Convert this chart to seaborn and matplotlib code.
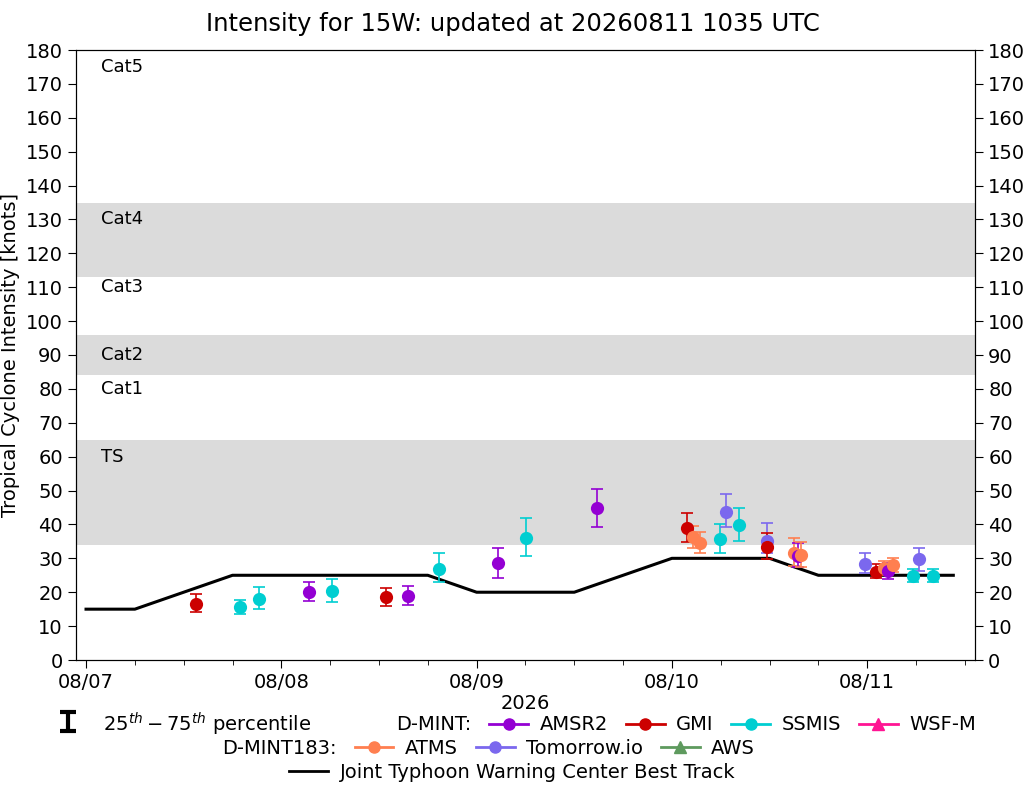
import numpy as np
import pandas as pd
import matplotlib
matplotlib.use("Agg")
import matplotlib.pyplot as plt
import matplotlib.dates as mdates
from matplotlib.lines import Line2D
import seaborn as sns

# ---------------- data ----------------
title_text = "Intensity for 15W: updated at 20260811 1035 UTC"

bt_time = ["2026-08-07 00:00", "2026-08-07 06:00", "2026-08-07 12:00", "2026-08-07 18:00",
           "2026-08-08 00:00", "2026-08-08 06:00", "2026-08-08 12:00", "2026-08-08 18:00",
           "2026-08-09 00:00", "2026-08-09 06:00", "2026-08-09 12:00", "2026-08-09 18:00",
           "2026-08-10 00:00", "2026-08-10 06:00", "2026-08-10 12:00", "2026-08-10 18:00",
           "2026-08-11 00:00", "2026-08-11 06:00", "2026-08-11 10:35"]
bt_vmax = [15, 15, 20, 25, 25, 25, 25, 25, 20, 20, 20, 25, 30, 30, 30, 25, 25, 25, 25]

amsr2_time = ["2026-08-08 03:25", "2026-08-08 15:36", "2026-08-09 02:37",
              "2026-08-09 14:46", "2026-08-10 15:32", "2026-08-11 02:30"]
amsr2_vmax = [20.0, 18.8, 28.5, 44.8, 30.8, 26.2]
amsr2_p25 = [17.3, 16.1, 24.1, 39.2, 27.5, 23.8]
amsr2_p75 = [22.9, 21.7, 33.0, 50.4, 34.4, 28.5]

gmi_time = ["2026-08-07 13:28", "2026-08-08 12:52", "2026-08-10 01:49",
            "2026-08-10 11:38", "2026-08-11 01:02"]
gmi_vmax = [16.4, 18.5, 38.9, 33.3, 25.9]
gmi_p25 = [14.1, 16.0, 34.9, 29.7, 24.2]
gmi_p75 = [19.4, 21.2, 43.3, 37.4, 28.2]

ssmis_time = ["2026-08-07 18:56", "2026-08-07 21:17", "2026-08-08 06:12",
              "2026-08-08 19:25", "2026-08-09 06:03", "2026-08-10 05:53",
              "2026-08-10 08:12", "2026-08-11 05:41", "2026-08-11 08:07"]
ssmis_vmax = [15.5, 18.0, 20.3, 27.0, 35.9, 35.7, 39.8, 24.8, 24.9]
ssmis_p25 = [13.5, 15.0, 17.0, 22.9, 30.6, 31.5, 35.1, 23.1, 23.1]
ssmis_p75 = [17.8, 21.4, 23.8, 31.5, 41.8, 40.0, 45.0, 26.8, 26.8]

atms_time = ["2026-08-10 02:34", "2026-08-10 03:27", "2026-08-10 14:57",
             "2026-08-10 15:53", "2026-08-11 02:05", "2026-08-11 03:11"]
atms_vmax = [36.2, 34.4, 31.7, 30.9, 27.1, 28.0]
atms_p25 = [33.0, 31.6, 27.7, 27.5, 25.0, 26.1]
atms_p75 = [39.6, 37.7, 35.9, 34.7, 29.3, 30.0]

tio_time = ["2026-08-10 06:38", "2026-08-10 11:38", "2026-08-10 23:41", "2026-08-11 06:19"]
tio_vmax = [43.6, 35.2, 28.3, 29.8]
tio_p25 = [39.2, 31.5, 25.6, 26.4]
tio_p75 = [48.9, 40.3, 31.5, 33.0]

cat_labels = ["TS", "Cat1", "Cat2", "Cat3", "Cat4", "Cat5"]
cat_label_y = [60, 80, 90, 110, 130, 175]
shade_lo = [34, 84, 113]
shade_hi = [65, 96, 135]

# ---------------- styling ----------------
colors = {"AMSR2": "#9400D3", "GMI": "#CC0000", "SSMIS": "#00CED1", "WSF-M": "#FF1493",
          "ATMS": "#FF7F50", "Tomorrow.io": "#7B68EE", "AWS": "#5E9A5E"}

plt.rcParams["font.family"] = ["DejaVu Sans"]

fig = plt.figure(figsize=(10.25, 7.85), dpi=100)
ax = fig.add_axes([76 / 1025, 1 - 660 / 785, 899 / 1025, 610 / 785])

for lo, hi in zip(shade_lo, shade_hi):
    ax.axhspan(lo, hi, color="#DBDBDB", lw=0, zorder=0)

bt = pd.DataFrame({"time": pd.to_datetime(bt_time), "vmax": bt_vmax})
sns.lineplot(data=bt, x="time", y="vmax", color="black", lw=2.2, ax=ax, zorder=2)

series = [
    ("AMSR2", amsr2_time, amsr2_vmax, amsr2_p25, amsr2_p75),
    ("GMI", gmi_time, gmi_vmax, gmi_p25, gmi_p75),
    ("SSMIS", ssmis_time, ssmis_vmax, ssmis_p25, ssmis_p75),
    ("ATMS", atms_time, atms_vmax, atms_p25, atms_p75),
    ("Tomorrow.io", tio_time, tio_vmax, tio_p25, tio_p75),
]
rows = []
for name, t, v, lo, hi in series:
    for a, b, c, d in zip(t, v, lo, hi):
        rows.append({"sensor": name, "time": pd.Timestamp(a), "vmax": b, "p25": c, "p75": d})
obs = pd.DataFrame(rows).sort_values("time").reset_index(drop=True)

for _, r in obs.iterrows():
    ax.errorbar([r["time"]], [r["vmax"]],
                yerr=[[r["vmax"] - r["p25"]], [r["p75"] - r["vmax"]]],
                fmt="none", ecolor=colors[r["sensor"]], elinewidth=1.2,
                capsize=4, capthick=1.2, zorder=3)
    ax.plot([r["time"]], [r["vmax"]], "o", color=colors[r["sensor"]], ms=9.5,
            mec="none", zorder=4)

ax.set_ylim(0, 180)
ax.set_yticks(np.arange(0, 181, 10))
ax.set_xlim(pd.Timestamp("2026-08-06 22:46"), pd.Timestamp("2026-08-11 13:15"))
ax.xaxis.set_major_locator(mdates.DayLocator())
ax.xaxis.set_major_formatter(mdates.DateFormatter("%m/%d"))
ax.xaxis.set_minor_locator(mdates.HourLocator(byhour=[6, 12, 18]))
ax.tick_params(axis="both", which="major", labelsize=14, length=6)
ax.tick_params(axis="x", which="minor", length=3.5)
ax.set_xlabel("2026", fontsize=14, labelpad=1)
ax.set_ylabel("Tropical Cyclone Intensity [knots]", fontsize=14)
ax.set_title(title_text, fontsize=17.5, pad=14, x=(512.5 - 76) / 899)

for lab, yv in zip(cat_labels, cat_label_y):
    ax.text(0.028, yv, lab, transform=ax.get_yaxis_transform(), fontsize=13,
            va="center", ha="left")

ax2 = ax.twinx()
ax2.set_ylim(0, 180)
ax2.set_yticks(np.arange(0, 181, 10))
ax2.tick_params(axis="y", labelsize=14, length=6)

# ---------------- legends ----------------
eb = ax.errorbar([np.nan], [np.nan], yerr=[1], fmt="none", ecolor="black",
                 elinewidth=3, capsize=6, capthick=3)
blank = Line2D([], [], linestyle="none")

def mk(name, marker="o"):
    return Line2D([], [], color=colors[name], marker=marker, ms=8, lw=2)

leg0 = fig.legend([eb], [r"$25^{th}-75^{th}$ percentile"], loc="center left",
                  bbox_to_anchor=(52 / 1025, 1 - 725 / 785), frameon=False, fontsize=14,
                  handlelength=1.6, handleheight=1.8, handletextpad=1.0,
                  borderpad=0, borderaxespad=0)

h1 = [blank, mk("AMSR2"), mk("GMI"), mk("SSMIS"), mk("WSF-M", "^")]
l1 = ["D-MINT:", "AMSR2", "GMI", "SSMIS", "WSF-M"]
leg1 = fig.legend(h1, l1, loc="center left", bbox_to_anchor=(346 / 1025, 1 - 725 / 785),
                  ncol=5, frameon=False, fontsize=14, handlelength=2.0, handletextpad=0.6,
                  columnspacing=0.9, borderpad=0, borderaxespad=0)

h2 = [blank, mk("ATMS"), mk("Tomorrow.io"), mk("AWS", "^")]
l2 = ["D-MINT183:", "ATMS", "Tomorrow.io", "AWS"]
leg2 = fig.legend(h2, l2, loc="center left", bbox_to_anchor=(172 / 1025, 1 - 748 / 785),
                  ncol=4, frameon=False, fontsize=14, handlelength=2.0, handletextpad=0.6,
                  columnspacing=0.9, borderpad=0, borderaxespad=0)

h3 = [Line2D([], [], color="black", lw=2)]
l3 = ["Joint Typhoon Warning Center Best Track"]
leg3 = fig.legend(h3, l3, loc="center", bbox_to_anchor=(0.5, 1 - 772 / 785), ncol=1,
                  frameon=False, fontsize=14, handlelength=2.0, handletextpad=0.6,
                  borderpad=0, borderaxespad=0)

fig.savefig("out.png", dpi=100)
